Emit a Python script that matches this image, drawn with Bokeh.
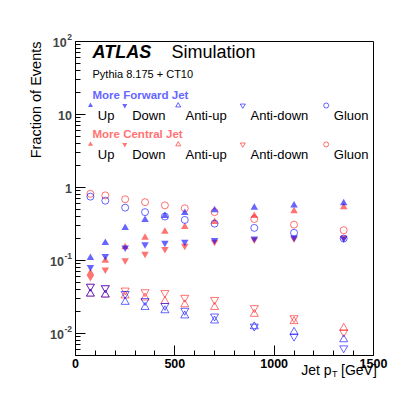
import math
from bokeh.plotting import figure
from bokeh.models import Label, FixedTicker, CustomJSTickFormatter, Range1d
from bokeh.embed import file_html
from bokeh.resources import INLINE

# ---------------- data ----------------
pt = [75, 150, 250, 350, 450, 550, 700, 900, 1100, 1350]

fwd_up = [0.109, 0.175, 0.28, 0.36, 0.41, 0.45, 0.49, 0.53, 0.57, 0.61]
fwd_down = [0.081, 0.115, 0.15, 0.166, 0.174, 0.18, 0.19, 0.20, 0.206, 0.20]
fwd_antiup = [0.035, 0.034, 0.027, 0.023, 0.0207, 0.0176, 0.015, 0.0125, 0.0105, 0.0083]
fwd_antidown = [0.044, 0.042, 0.035, 0.028, 0.024, 0.0206, 0.0172, 0.0125, 0.0091, 0.0063]
fwd_gluon = [0.75, 0.66, 0.53, 0.46, 0.40, 0.36, 0.32, 0.28, 0.24, 0.20]

cen_up = [0.068, 0.10, 0.153, 0.206, 0.25, 0.29, 0.34, 0.41, 0.475, 0.54]
cen_down = [0.059, 0.075, 0.10, 0.123, 0.143, 0.158, 0.18, 0.193, 0.20, 0.206]
cen_antiup = [0.035, 0.034, 0.033, 0.031, 0.0277, 0.025, 0.023, 0.0185, 0.0147, 0.0119]
cen_antidown = [0.044, 0.042, 0.039, 0.037, 0.036, 0.031, 0.029, 0.0224, 0.0163, 0.0104]
cen_gluon = [0.82, 0.78, 0.69, 0.63, 0.57, 0.52, 0.46, 0.37, 0.31, 0.26]

entry_names = ["Up", "Down", "Anti-up", "Anti-down", "Gluon"]
y_tick_values = [0.01, 0.1, 1, 10, 100]
y_tick_bases = ["10", "10", "1", "10", "10"]
y_tick_exps = ["-2", "-1", "", "", "2"]
x_tick_values = [0, 500, 1000, 1500]

# ---------------- styling ----------------
BLUE = "#0000ff"
RED = "#ff0000"
BLUE_A = 0.6
RED_A = 0.55
FONT = "Liberation Sans"

X0, X1 = 0, 1500
Y0, Y1 = 0.005, 100

# canvas and box (plot area) geometry in pixels
W, H = 399, 379
BL, BT, BW, BH = 75, 41, 298, 314

LY0, LY1 = math.log10(Y0), math.log10(Y1)

def dx(px):
    return X0 + (px - BL) / BW * (X1 - X0)

def dy(py):
    return 10 ** (LY1 - (py - BT) / BH * (LY1 - LY0))

# the frame covers the whole canvas; axes are pinned to the box edges
p = figure(width=W, height=H, output_backend="svg", toolbar_location=None,
           x_axis_type="linear", y_axis_type="log",
           x_range=Range1d(dx(0), dx(W)), y_range=Range1d(dy(H), dy(0)),
           min_border=0)
p.background_fill_color = "white"
p.border_fill_color = "white"
p.outline_line_color = None
p.grid.visible = False

p.xaxis.fixed_location = Y0
p.yaxis.fixed_location = X0
p.xaxis.bounds = (X0, X1)
p.yaxis.bounds = (Y0, Y1)

p.xaxis.ticker = FixedTicker(ticks=x_tick_values, minor_ticks=list(range(X0, X1 + 1, 100)))
minor_y = [m * 10.0 ** e for e in range(-3, 2) for m in range(1, 10)]
minor_y = [v for v in minor_y if Y0 * 0.999 <= v <= Y1 * 1.001]
p.yaxis.ticker = FixedTicker(ticks=y_tick_values, minor_ticks=minor_y)
p.yaxis.formatter = CustomJSTickFormatter(code="return '';")
for ax in (p.xaxis[0], p.yaxis[0]):
    ax.major_tick_in = 10
    ax.major_tick_out = 0
    ax.minor_tick_in = 5
    ax.minor_tick_out = 0
    ax.axis_line_color = "black"
    ax.major_tick_line_color = "black"
    ax.minor_tick_line_color = "black"
    ax.major_label_text_font = FONT
    ax.major_label_text_font_style = "bold"
    ax.major_label_text_font_size = "12.5px"
    ax.major_label_text_color = "black"
p.xaxis.major_label_standoff = 3

# box outline on the range limits
p.quad(left=[X0], right=[X1], bottom=[Y0], top=[Y1], fill_color=None, line_color="black", line_width=1)

# ---------------- data markers ----------------
MS = 7
def draw_set(up, down, antiup, antidown, gluon, col, a):
    p.scatter(pt, up, marker="triangle", size=MS + 0.5, fill_color=col, fill_alpha=a, line_color=None)
    p.scatter(pt, down, marker="inverted_triangle", size=MS + 0.5, fill_color=col, fill_alpha=a, line_color=None)
    p.scatter(pt, antiup, marker="triangle", size=MS + 1, fill_color=None, line_color=col, line_alpha=a, line_width=1)
    p.scatter(pt, antidown, marker="inverted_triangle", size=MS + 1, fill_color=None, line_color=col, line_alpha=a, line_width=1)
    p.scatter(pt, gluon, marker="circle", size=MS, fill_color=None, line_color=col, line_alpha=a, line_width=1)

draw_set(cen_up, cen_down, cen_antiup, cen_antidown, cen_gluon, RED, RED_A)
draw_set(fwd_up, fwd_down, fwd_antiup, fwd_antidown, fwd_gluon, BLUE, BLUE_A)

# ---------------- text helpers (canvas pixels) ----------------
def text(px, py, s, size, color="black", style="normal", align="left", baseline="middle", angle=0.0):
    p.add_layout(Label(x=px, y=H - py, x_units="screen", y_units="screen", text=s,
                       text_font=FONT, text_font_size=size, text_font_style=style,
                       text_color=color, text_align=align,
                       text_baseline=baseline, angle=angle))

# y tick labels: base plus raised exponent
EXP_SIZE = 8.5
char_w = {"-": 0.333}
for v, base, ex in zip(y_tick_values, y_tick_bases, y_tick_exps):
    right = 71.5
    if ex:
        p.add_layout(Label(x=right, y=v, x_units="screen", y_units="data", text=ex,
                           text_font=FONT, text_font_size=f"{EXP_SIZE}px", text_font_style="bold",
                           text_align="right", text_baseline="middle", y_offset=5))
        right -= sum(char_w.get(c, 0.556) for c in ex) * EXP_SIZE + 0.5
    p.add_layout(Label(x=right, y=v, x_units="screen", y_units="data", text=base,
                       text_font=FONT, text_font_size="12.5px", text_font_style="bold",
                       text_align="right", text_baseline="middle", y_offset=-1))

# header text
text(92, 51, "ATLAS", "18px", style="bold italic")
text(171, 51, "Simulation", "18px")
text(92, 73.7, "Pythia 8.175 + CT10", "11px")

marker_px = [90, 124.3, 177.7, 242.3, 325.7]
label_px = [97.3, 131.7, 185, 250, 333.3]
kinds = [("triangle", True), ("inverted_triangle", True), ("triangle", False),
         ("inverted_triangle", False), ("circle", False)]

def legend_block(title, head_y, col, a, tcol):
    text(92, head_y, title, "11.5px", color=tcol, style="bold")
    my = head_y + 10.5
    ly = head_y + 20.3
    for (mk, filled), mx, lx, name in zip(kinds, marker_px, label_px, entry_names):
        if filled:
            p.scatter([dx(mx)], [dy(my)], marker=mk, size=5, fill_color=col, fill_alpha=a, line_color=None)
        else:
            p.scatter([dx(mx)], [dy(my)], marker=mk, size=5, fill_color=None, line_color=col, line_alpha=a)
        text(lx, ly, name, "13px")

legend_block("More Forward Jet", 94.5, BLUE, BLUE_A, "#6666ff")
legend_block("More Central Jet", 133.4, RED, RED_A, "#ff7373")

# axis titles
text(35, 41, "Fraction of Events", "14.5px", align="right", angle=math.pi / 2)
text(331, 369.5, "Jet p", "14px", align="right")
text(331.5, 373.3, "T", "9px")
text(340.5, 369.5, "[GeV]", "14px")

open("out.html", "w").write(file_html(p, INLINE))
